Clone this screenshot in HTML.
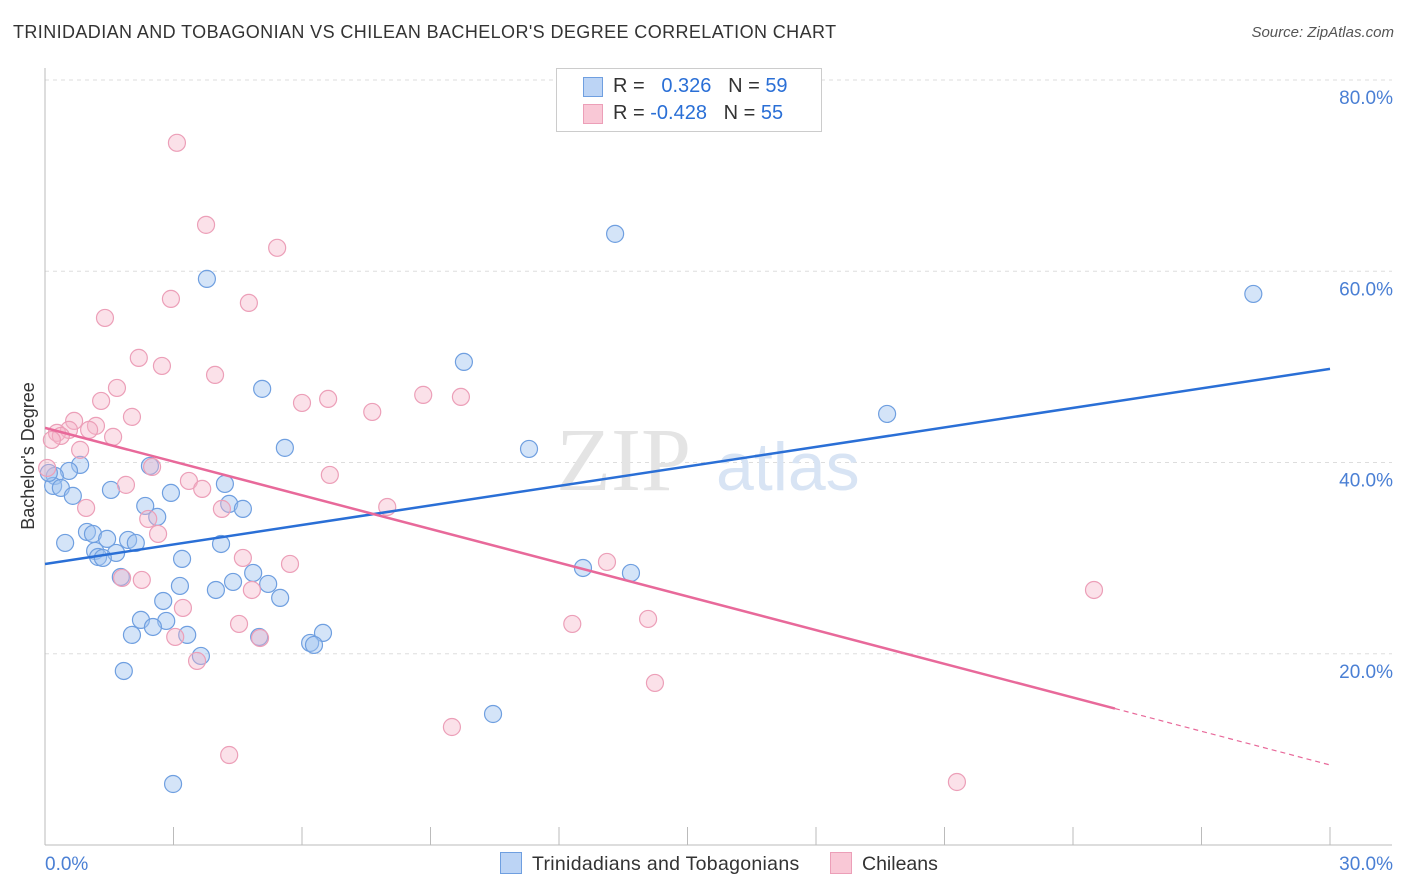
<!DOCTYPE html>
<html><head><meta charset="utf-8"><style>
body{margin:0;background:#fff;font-family:"Liberation Sans",sans-serif;}
#wrap{position:relative;width:1406px;height:892px;overflow:hidden;}
.t{position:absolute;white-space:nowrap;}
</style></head><body>
<div id="wrap">
<div class="t" style="left:13px;top:22px;font-size:18px;letter-spacing:0.4px;color:#333;">TRINIDADIAN AND TOBAGONIAN VS CHILEAN BACHELOR'S DEGREE CORRELATION CHART</div>
<div class="t" style="right:12px;top:24px;font-size:15px;color:#555;font-style:italic;">Source: ZipAtlas.com</div>
<svg id="svg" width="1406" height="892" style="position:absolute;left:0;top:0"></svg>
</div>
<script>
const blueX=[13.31,3.78,28.21,9.78,5.07,19.66,5.60,11.30,0.82,2.45,0.56,0.23,0.19,0.37,0.65,1.54,4.20,2.94,4.30,2.34,4.62,2.62,0.98,1.12,0.47,1.45,1.94,2.12,4.11,1.17,1.66,1.24,1.35,3.20,1.77,4.86,4.39,5.21,3.15,3.99,5.49,2.76,2.24,2.83,2.52,2.03,3.32,6.49,5.00,6.19,6.28,3.64,1.84,12.56,13.68,10.46,2.99,0.09];
const blueY=[63.91,59.20,57.63,50.52,47.70,45.08,41.53,41.42,39.75,39.64,39.12,38.60,37.55,37.34,36.51,37.13,37.76,36.82,35.67,35.46,35.15,34.31,32.74,32.53,31.59,32.01,31.90,31.59,31.48,30.75,30.54,30.12,30.02,29.92,28.03,28.45,27.51,27.30,27.09,26.67,25.84,25.52,23.54,23.43,22.80,21.97,21.97,22.18,21.76,21.13,20.92,19.77,18.20,28.97,28.45,13.70,6.38,38.91];
const pinkX=[3.08,3.76,5.42,2.94,4.76,1.40,2.19,2.73,3.97,1.68,1.31,8.83,9.71,6.00,6.61,7.64,2.03,0.68,1.19,0.56,1.03,0.28,0.37,1.59,0.16,0.82,2.50,0.05,6.65,3.36,1.89,3.67,0.96,4.13,7.99,2.41,2.64,4.62,5.72,13.12,1.80,2.26,4.83,3.22,4.53,12.31,14.08,3.04,5.02,3.55,14.24,9.50,4.30,24.49,21.29];
const pinkY=[73.43,64.85,62.45,57.11,56.69,55.12,50.94,50.10,49.16,47.80,46.44,47.07,46.86,46.23,46.65,45.29,44.77,44.35,43.83,43.41,43.41,43.10,42.78,42.68,42.36,41.32,39.54,39.43,38.70,38.07,37.66,37.24,35.25,35.15,35.35,34.10,32.53,30.02,29.39,29.60,27.93,27.72,26.67,24.79,23.12,23.12,23.64,21.76,21.65,19.25,16.95,12.34,9.41,26.67,6.59];
const blueLine=[29.39,49.79];
const pinkLine=[43.62,8.37];
const pinkSolidEnd=24.98;
const yTicks=[20,40,60,80];
const xTickLabels=["0.0%","30.0%"];

const NS="http://www.w3.org/2000/svg";
const svg=document.getElementById('svg');
const sx=v=>45+v/30*1285;
const sy=v=>845-v/80*765;
function mk(tag,attrs,parent){const e=document.createElementNS(NS,tag);for(const k in attrs)e.setAttribute(k,attrs[k]);(parent||svg).appendChild(e);return e;}

yTicks.forEach(t=>{
  const g=mk('line',{x1:45,x2:1392,y1:sy(t),y2:sy(t),stroke:'#ddd','stroke-dasharray':'4,4'});
  
  
  const tx=mk('text',{x:1393,y:sy(t)+24,'text-anchor':'end','font-size':19,fill:'#4a7fd4','font-family':'Liberation Sans'});
  tx.textContent=t.toFixed(1)+'%';
  
  
});
const ya=mk('line',{x1:45,x2:45,y1:68,y2:845,stroke:'#bbb'});


const xa=mk('line',{x1:45,x2:1392,y1:845,y2:845,stroke:'#bbb'});


for(let i=0;i<=10;i++){const x=sx(i*3);const tk=mk('line',{x1:x,x2:x,y1:827,y2:845,stroke:'#bbb'});

}
[[0,'start',45],[1,'end',1393]].forEach(([i,a,x])=>{const t=mk('text',{x:x,y:870,'text-anchor':a,'font-size':19,fill:'#4a7fd4','font-family':'Liberation Sans'});t.textContent=xTickLabels[i];

});
const yt=mk('text',{x:34,y:456,'text-anchor':'middle','font-size':18,fill:'#333','font-family':'Liberation Sans',transform:'rotate(-90 34 456)'});
yt.textContent="Bachelor's Degree";


const wm=mk('text',{x:556,y:490,'font-size':90,fill:'#e4e4e4','font-family':'Liberation Serif'});wm.textContent='ZIP';


const wm2=mk('text',{x:716,y:490,'font-size':68,fill:'#d8e4f4','font-family':'Liberation Sans'});wm2.textContent='atlas';


blueX.forEach((x,i)=>{const c=mk('circle',{cx:sx(x),cy:sy(blueY[i]),r:8.5,fill:'rgba(160,196,240,0.45)',stroke:'#6f9fe0','stroke-width':1.2});

});
pinkX.forEach((x,i)=>{const c=mk('circle',{cx:sx(x),cy:sy(pinkY[i]),r:8.5,fill:'rgba(245,180,200,0.4)',stroke:'#ec9fb8','stroke-width':1.2});

});
const bl=mk('line',{x1:sx(0),y1:sy(blueLine[0]),x2:sx(30),y2:sy(blueLine[1]),stroke:'#2a6fd6','stroke-width':2.5});


const pAt=x=>pinkLine[0]+(pinkLine[1]-pinkLine[0])*x/30;
const pl=mk('line',{x1:sx(0),y1:sy(pAt(0)),x2:sx(pinkSolidEnd),y2:sy(pAt(pinkSolidEnd)),stroke:'#e8699a','stroke-width':2.5});


const pd=mk('line',{x1:sx(pinkSolidEnd),y1:sy(pAt(pinkSolidEnd)),x2:sx(30),y2:sy(pAt(30)),stroke:'#e8699a','stroke-width':1.2,'stroke-dasharray':'5,4'});


</script>
<div class="t" style="left:556px;top:68px;width:264px;height:62px;border:1px solid #ccc;background:#fff;font-size:20px;color:#333;">
 <div style="position:absolute;left:26px;top:8px;width:18px;height:18px;background:#bcd4f5;border:1px solid #6f9fe0;"></div>
 <div style="position:absolute;left:56px;top:6px;">R = &nbsp;<span style="color:#2a6fd6">&nbsp;0.326</span> &nbsp;&nbsp;N = <span style="color:#2a6fd6">59</span></div>
 <div style="position:absolute;left:26px;top:35px;width:18px;height:18px;background:#f9c8d6;border:1px solid #ec9fb8;"></div>
 <div style="position:absolute;left:56px;top:33px;">R = <span style="color:#2a6fd6">-0.428</span> &nbsp;&nbsp;N = <span style="color:#2a6fd6">55</span></div>
</div>
<div class="t" style="left:500px;top:852px;font-size:19.5px;letter-spacing:0.3px;color:#333;"><span style="display:inline-block;width:20px;height:20px;background:#bcd4f5;border:1px solid #6f9fe0;vertical-align:-4px;margin-right:10px;"></span>Trinidadians and Tobagonians</div>
<div class="t" style="left:830px;top:852px;font-size:19.5px;color:#333;"><span style="display:inline-block;width:20px;height:20px;background:#f9c8d6;border:1px solid #ec9fb8;vertical-align:-4px;margin-right:10px;"></span>Chileans</div>
</body></html>
